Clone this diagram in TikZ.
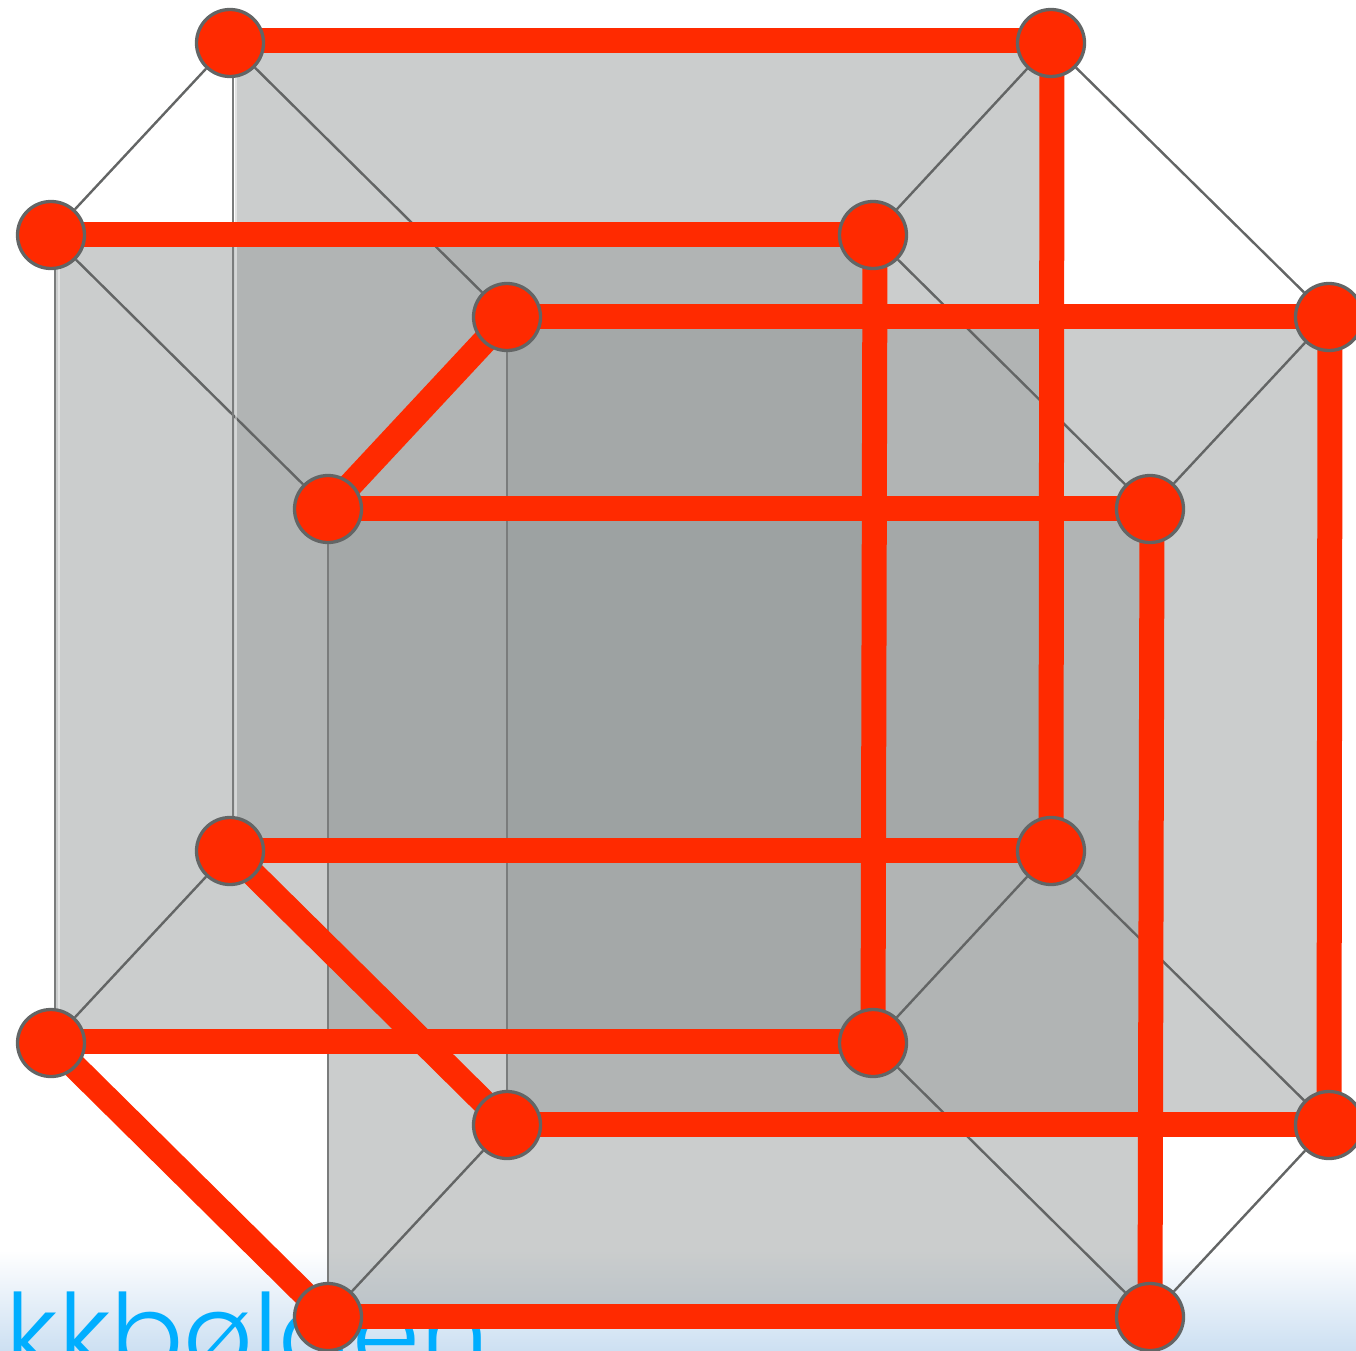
\documentclass[tikz,border=0pt]{standalone}
\usepackage{fontspec}
\usetikzlibrary{backgrounds}
\newfontfamily\wordfont{Poppins Light}
\definecolor{tesRed}{HTML}{FF2A00}
\definecolor{tesEdge}{HTML}{636565}
\definecolor{tesFace}{HTML}{979C9C}
\definecolor{tesWord}{HTML}{00AEFF}
\definecolor{tesSky}{HTML}{CDE0F2}
\tikzset{
  vertex/.style={circle, draw=tesEdge, fill=tesRed, line width=0.33mm,
    minimum size=6.7mm, inner sep=0pt},
  face/.style={fill=tesFace, fill opacity=0.5},
  thin edge/.style={draw=tesEdge, line width=0.24mm},
  rib/.style={draw=tesEdge!85, line width=0.28mm},
  rib glow/.style={draw=white, draw opacity=0.45, line width=0.2mm},
  red edge/.style={draw=tesRed, line width=2.5mm},
  wordlabel/.style={font=\wordfont\fontsize{31pt}{37pt}\selectfont,
    text=tesWord, inner sep=0pt, anchor=base west},
}
\begin{document}
\begin{tikzpicture}[x=0.1mm, y=-0.1mm]
  \clip (0,0) rectangle (1356,1350);

  % ---- Nodes -------------------------------------------------------------
  \node[vertex] (a) at (230,43)    {};
  \node[vertex] (b) at (1051,43)   {};
  \node[vertex] (c) at (51,235)    {};
  \node[vertex] (d) at (873,235)   {};
  \node[vertex] (e) at (507,317)   {};
  \node[vertex] (f) at (1329,317)  {};
  \node[vertex] (g) at (328,509)   {};
  \node[vertex] (h) at (1150,509)  {};
  \node[vertex] (i) at (230,851)   {};
  \node[vertex] (j) at (1051,851)  {};
  \node[vertex] (k) at (51,1043)   {};
  \node[vertex] (l) at (873,1043)  {};
  \node[vertex] (m) at (507,1125)  {};
  \node[vertex] (n) at (1329,1125) {};
  \node[vertex] (o) at (328,1317)  {};
  \node[vertex] (p) at (1150,1317) {};

  \begin{scope}[on background layer]
    % ---- Backdrop ---------------------------------------------------------
    \shade[top color=white, bottom color=tesSky] (0,1250) rectangle (1356,1350);
    \node[wordlabel] (word) at (5,1372) {kkbølgen};

    % ---- Faces ------------------------------------------------------------
    \fill[face] ([xshift=0.5mm]a.center) rectangle (j.center);
    \fill[face] ([xshift=0.5mm]c.center) rectangle (l.center);
    \fill[face] (e.center) rectangle (n.center);
    \fill[face] (g.center) rectangle (p.center);

    % ---- Thin edges -------------------------------------------------------
    \draw[thin edge] (a) -- (c);
    \draw[thin edge] (b) -- (d);
    \draw[thin edge] (f) -- (h);
    \draw[thin edge] (i) -- (k);
    \draw[thin edge] (j) -- (l);
    \draw[thin edge] (m) -- (o);
    \draw[thin edge] (n) -- (p);
    \draw[thin edge] (a) -- (e);
    \draw[thin edge] (b) -- (f);
    \draw[thin edge] (c) -- (g);
    \draw[thin edge] (d) -- (h);
    \draw[thin edge] (j) -- (n);
    \draw[thin edge] (l) -- (p);

    % vertical ribs sit a little right of the vertices
    \draw[rib glow] ([xshift=0.6mm]a.center) -- ([xshift=0.6mm]i.center);
    \draw[rib glow] ([xshift=0.8mm]c.center) -- ([xshift=0.8mm]k.center);
    \draw[rib] ([xshift=0.3mm]a.center) -- ([xshift=0.3mm]i.center);
    \draw[rib] ([xshift=0.4mm]c.center) -- ([xshift=0.4mm]k.center);
    \draw[rib] (e) -- (m);
    \draw[rib] (g) -- (o);

    % ---- Red edges --------------------------------------------------------
    \draw[red edge] ([yshift=0.2mm]a.center) -- ([yshift=0.2mm]b.center);
    \draw[red edge] ([yshift=0.1mm]c.center) -- ([yshift=0.1mm]d.center);
    \draw[red edge] ([yshift=0.1mm]e.center) -- ([yshift=0.1mm]f.center);
    \draw[red edge] ([yshift=0.1mm]g.center) -- ([yshift=0.1mm]h.center);
    \draw[red edge] ([yshift=0.1mm]i.center) -- ([yshift=0.1mm]j.center);
    \draw[red edge] ([yshift=0.2mm]k.center) -- ([yshift=0.2mm]l.center);
    \draw[red edge] ([yshift=0.1mm]m.center) -- ([yshift=0.1mm]n.center);
    \draw[red edge] ([yshift=0.1mm]o.center) -- ([yshift=0.1mm]p.center);

    \draw[red edge] ([xshift=0.1mm]b.center) -- (j.center);
    \draw[red edge] ([xshift=0.2mm]d.center) -- (l.center);
    \draw[red edge] ([xshift=0.1mm]f.center) -- (n.center);
    \draw[red edge] ([xshift=0.2mm]h.center) -- (p.center);

    \draw[red edge] (e.center) -- (g.center);
    \draw[red edge] (i.center) -- (m.center);
    \draw[red edge] (k.center) -- (o.center);
  \end{scope}
\end{tikzpicture}
\end{document}
